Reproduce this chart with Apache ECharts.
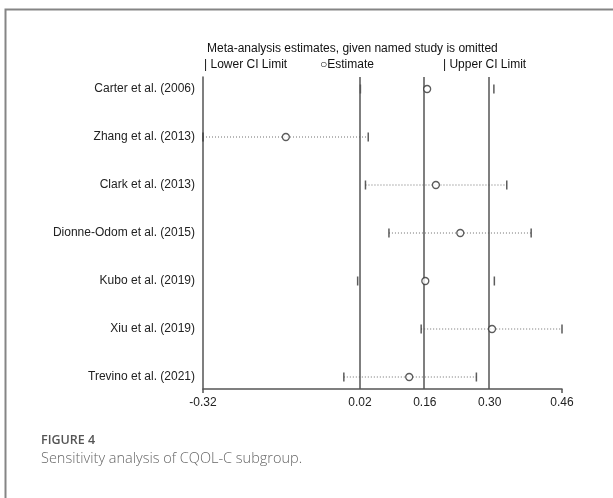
<!DOCTYPE html>
<html>
<head>
<meta charset="utf-8">
<script src="https://cdn.jsdelivr.net/npm/echarts@6/dist/echarts.min.js"></script>
<style>
  html, body { margin: 0; padding: 0; background: #ffffff; }
  #chart { width: 613px; height: 498px; }
</style>
</head>
<body>
<div id="chart"></div>
<script>
// Influence analysis: pooled estimate recomputed with each study left out
const studies = [
  'Carter et al. (2006)',
  'Zhang et al. (2013)',
  'Clark et al. (2013)',
  'Dionne-Odom et al. (2015)',
  'Kubo et al. (2019)',
  'Xiu et al. (2019)',
  'Trevino et al. (2021)'
];
const estimate = [0.167, -0.140, 0.186, 0.239, 0.163, 0.308, 0.128];
const lowerCI  = [0.022, -0.320, 0.033, 0.084, 0.016, 0.154, -0.014];
const upperCI  = [0.312, 0.039, 0.340, 0.393, 0.313, 0.460, 0.274];
// rows whose dotted interval line is printed
const dottedRows = [1, 2, 3, 5, 6];

// Full-sample pooled lower limit, estimate, upper limit
const pooledLines = [0.021, 0.162, 0.303];
// Axis extremes and the tick positions shown under the axis
const axisMin = -0.32;
const axisMax = 0.46;
const tickValues = [-0.32, 0.021, 0.162, 0.303, 0.46];

const font = 'Liberation Sans, Arial, sans-serif';
const ink = '#222';

const chart = echarts.init(document.getElementById('chart'), null, { renderer: 'canvas' });

const rowIdx = studies.map((_, i) => i);

// one dotted CI line per study
const ciSeries = dottedRows.map(i => ({
  type: 'line',
  silent: true,
  symbol: 'none',
  z: 2,
  lineStyle: { color: '#6f6f6f', width: 1, type: [1, 2] },
  data: [[lowerCI[i], i], [upperCI[i], i]]
}));

const option = {
  animation: false,
  backgroundColor: '#ffffff',
  grid: { left: 203, right: 51, top: 77, bottom: 109, containLabel: false },
  xAxis: {
    type: 'value',
    min: axisMin,
    max: axisMax,
    splitLine: { show: false },
    axisLine: { show: true, onZero: false, lineStyle: { color: '#555', width: 1.5 } },
    axisTick: {
      show: true, inside: false, length: 4,
      customValues: [axisMin, axisMax],
      lineStyle: { color: '#555', width: 1.5 }
    },
    axisLabel: {
      show: true,
      customValues: tickValues,
      formatter: v => v.toFixed(2),
      color: ink, fontFamily: font, fontSize: 12, margin: 8
    }
  },
  yAxis: {
    type: 'value',
    inverse: true,
    min: -0.25,
    max: 6.25,
    interval: 0.25,
    splitLine: { show: false },
    axisTick: { show: false },
    axisLine: { show: true, onZero: false, lineStyle: { color: '#555', width: 1.5 } },
    axisLabel: {
      color: ink, fontFamily: font, fontSize: 12, margin: 8,
      formatter: v => {
        const r = Math.round(v);
        return Math.abs(v - r) < 1e-6 && r >= 0 && r < studies.length ? studies[r] : '';
      }
    }
  },
  series: [
    ...ciSeries,
    {
      // pooled reference lines
      type: 'line',
      data: [],
      silent: true,
      markLine: {
        silent: true,
        symbol: 'none',
        label: { show: false },
        lineStyle: { color: '#555', width: 1.5, type: 'solid' },
        data: pooledLines.map(v => ({ xAxis: v }))
      }
    },
    {
      type: 'scatter',
      name: 'Lower CI Limit',
      symbol: 'rect',
      symbolSize: [1.5, 9],
      itemStyle: { color: '#333' },
      z: 4,
      data: rowIdx.map(i => [lowerCI[i], i])
    },
    {
      type: 'scatter',
      name: 'Upper CI Limit',
      symbol: 'rect',
      symbolSize: [1.5, 9],
      itemStyle: { color: '#333' },
      z: 4,
      data: rowIdx.map(i => [upperCI[i], i])
    },
    {
      type: 'scatter',
      name: 'Estimate',
      symbol: 'circle',
      symbolSize: 7,
      itemStyle: { color: '#ffffff', borderColor: '#333', borderWidth: 1.3 },
      z: 5,
      data: rowIdx.map(i => [estimate[i], i])
    }
  ],
  graphic: [
    // panel frame
    {
      type: 'polyline', silent: true,
      shape: { points: [[5.5, 498], [5.5, 9.5], [613, 9.5]] },
      style: { stroke: '#858585', lineWidth: 2, fill: null }
    },
    {
      type: 'text', left: 207, top: 43,
      style: { text: 'Meta-analysis estimates, given named study is omitted', fill: '#111', font: '12px ' + font }
    },
    {
      type: 'text', left: 204, top: 59,
      style: { text: '| Lower CI Limit', fill: '#111', font: '12px ' + font }
    },
    {
      type: 'text', left: 320, top: 59,
      style: { text: '\u25CBEstimate', fill: '#111', font: '12px ' + font }
    },
    {
      type: 'text', left: 443, top: 59,
      style: { text: '| Upper CI Limit', fill: '#111', font: '12px ' + font }
    },
    {
      type: 'text', left: 41, top: 434,
      style: { text: 'FIGURE 4', fill: '#555', font: '600 12.5px "Open Sans", sans-serif' }
    },
    {
      type: 'text', left: 41, top: 451,
      style: { text: 'Sensitivity analysis of CQOL-C subgroup.', fill: '#666', font: '300 14.5px "Open Sans", sans-serif' }
    }
  ]
};

chart.setOption(option);
</script>
</body>
</html>
